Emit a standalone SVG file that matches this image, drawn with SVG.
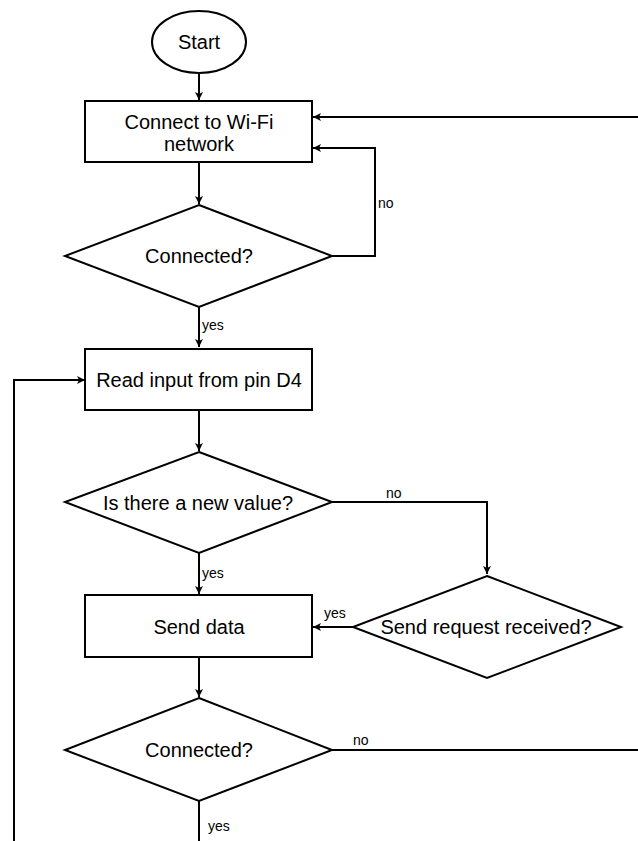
<svg xmlns="http://www.w3.org/2000/svg" width="638" height="841" viewBox="0 0 638 841">
<style>
.shape{fill:#fff;stroke:#000;stroke-width:2}
.edge{fill:none;stroke:#000;stroke-width:2}
.t{font-family:"Liberation Sans",Arial,Helvetica,sans-serif;font-size:20px;fill:#000;text-anchor:middle}
.l{font-family:"Liberation Sans",Arial,Helvetica,sans-serif;font-size:14px;fill:#000}
</style>
<defs>
<marker id="arr" markerUnits="userSpaceOnUse" markerWidth="10" markerHeight="10" refX="8" refY="4" orient="auto" viewBox="0 0 10 8">
<path d="M0,0 L8,4 L0,8 L2,4 Z" fill="#000"/>
</marker>
</defs>
<rect width="638" height="841" fill="#fff"/>
<g id="connectors">
<path class="edge" d="M199,73 V100" marker-end="url(#arr)"/>
<path class="edge" d="M638,117 H313" marker-end="url(#arr)"/>
<path class="edge" d="M199,162 V204" marker-end="url(#arr)"/>
<path class="edge" d="M332,256 H375 V148 H313" marker-end="url(#arr)"/>
<path class="edge" d="M199,307 V347" marker-end="url(#arr)"/>
<path class="edge" d="M14,841 V380 H85" marker-end="url(#arr)"/>
<path class="edge" d="M199,410 V451" marker-end="url(#arr)"/>
<path class="edge" d="M332,502 H487 V574" marker-end="url(#arr)"/>
<path class="edge" d="M199,553 V594" marker-end="url(#arr)"/>
<path class="edge" d="M353,627 H313" marker-end="url(#arr)"/>
<path class="edge" d="M199,657 V697" marker-end="url(#arr)"/>
<path class="edge" d="M332,750 H638"/>
<path class="edge" d="M199,801 V841"/>
<text class="l" x="378" y="208">no</text>
<text class="l" x="202" y="330">yes</text>
<text class="l" x="386" y="498">no</text>
<text class="l" x="202" y="578">yes</text>
<text class="l" x="324" y="618">yes</text>
<text class="l" x="353" y="745">no</text>
<text class="l" x="208" y="831">yes</text>
</g>
<g id="start">
<ellipse class="shape" cx="199" cy="42" rx="47" ry="31"/>
<text class="t" x="199" y="49">Start</text>
</g>
<g id="connect">
<rect class="shape" x="85" y="101" width="227" height="61"/>
<text class="t" x="199" y="129">Connect to Wi-Fi</text>
<text class="t" x="199" y="151">network</text>
</g>
<g id="connected1">
<polygon class="shape" points="199,205 332,256 199,307 65,256"/>
<text class="t" x="199" y="263">Connected?</text>
</g>
<g id="read">
<rect class="shape" x="85" y="349" width="227" height="61"/>
<text class="t" x="199" y="387">Read input from pin D4</text>
</g>
<g id="newvalue">
<polygon class="shape" points="199,452 332,502 199,553 65,502"/>
<text class="t" x="198" y="510">Is there a new value?</text>
</g>
<g id="sendrequest">
<polygon class="shape" points="487,576 621,627 487,678 353,627"/>
<text class="t" x="486" y="634">Send request received?</text>
</g>
<g id="senddata">
<rect class="shape" x="85" y="595" width="227" height="62"/>
<text class="t" x="199" y="634">Send data</text>
</g>
<g id="connected2">
<polygon class="shape" points="199,698 332,750 199,801 65,750"/>
<text class="t" x="199" y="757">Connected?</text>
</g>
</svg>
